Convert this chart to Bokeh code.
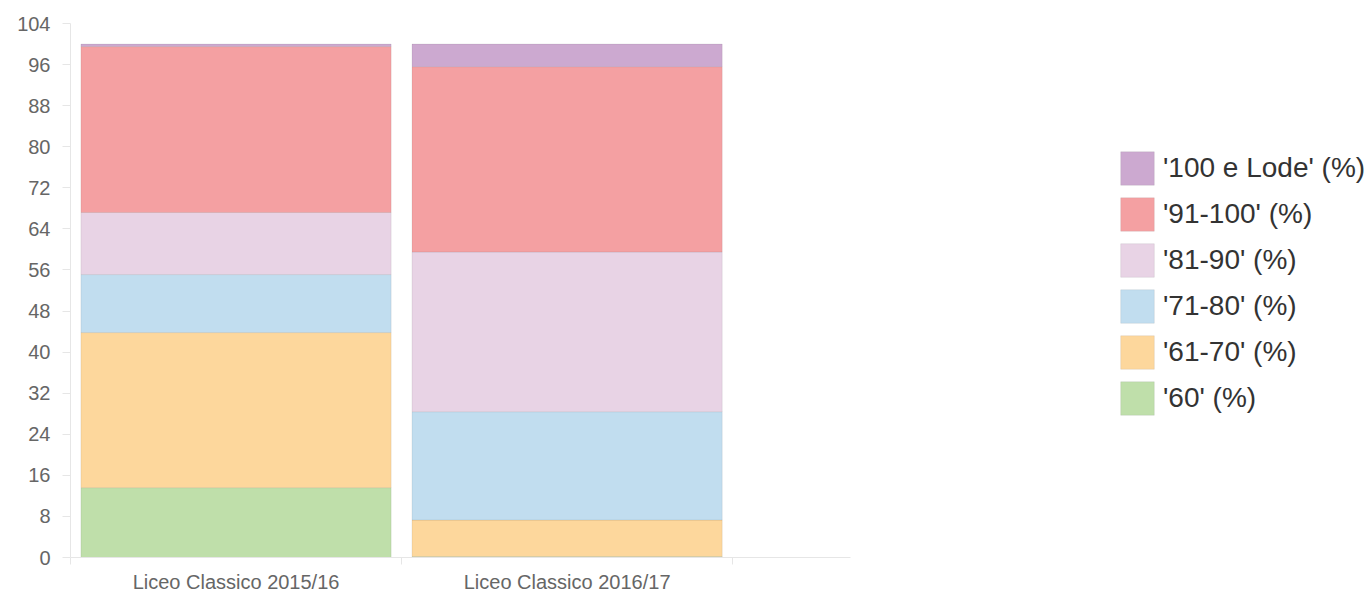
from bokeh.plotting import figure
from bokeh.models import Range1d, FixedTicker, Legend, LegendItem
from bokeh.embed import file_html
from bokeh.resources import INLINE

categories = ["Liceo Classico 2015/16", "Liceo Classico 2016/17"]
series_names = ["'60' (%)", "'61-70' (%)", "'71-80' (%)", "'81-90' (%)", "'91-100' (%)", "'100 e Lode' (%)"]
v60 = [13.6, 0.2]
v61_70 = [30.2, 7.1]
v71_80 = [11.3, 21.1]
v81_90 = [12.1, 31.1]
v91_100 = [32.3, 36.1]
v100_lode = [0.5, 4.4]
colors = ["#bfdfaa", "#fdd79c", "#c1ddef", "#e8d3e5", "#f4a0a2", "#cca9d0"]
y_ticks = [0, 8, 16, 24, 32, 40, 48, 56, 64, 72, 80, 88, 96, 104]

series = [v60, v61_70, v71_80, v81_90, v91_100, v100_lode]
xs = [i + 0.5 for i in range(len(categories))]

p = figure(frame_width=780, frame_height=534, min_border_left=70, min_border_top=23,
           min_border_right=518, min_border_bottom=37,
           x_range=Range1d(0, 2.356), y_range=Range1d(0, 104),
           output_backend="svg", toolbar_location=None)
p.outline_line_color = None
p.xgrid.visible = False
p.ygrid.visible = False

data = {"x": xs}
for name, vals in zip(series_names, series):
    data[name] = vals
renderers = p.vbar_stack(series_names, x="x", width=0.937, source=data,
                         color=colors, line_color="#000000", line_alpha=0.07, line_width=1)

# y axis
ya = p.yaxis[0]
ya.ticker = FixedTicker(ticks=y_ticks)
ya.axis_line_color = "#e6e6e6"
ya.major_tick_line_color = "#e6e6e6"
ya.major_tick_out = 8
ya.major_tick_in = 0
ya.minor_tick_line_color = None
ya.major_label_text_font = "Liberation Sans"
ya.major_label_text_font_size = "20px"
ya.major_label_text_color = "#666666"
ya.major_label_standoff = 12

# x axis
xa = p.xaxis[0]
xa.ticker = FixedTicker(ticks=xs, minor_ticks=[0, 1, 2])
xa.major_label_overrides = {x: c for x, c in zip(xs, categories)}
xa.axis_line_color = "#e6e6e6"
xa.major_tick_line_color = None
xa.major_tick_out = 0
xa.minor_tick_line_color = "#e6e6e6"
xa.minor_tick_out = 7
xa.minor_tick_in = 0
xa.major_label_text_font = "Liberation Sans"
xa.major_label_text_font_size = "20px"
xa.major_label_text_color = "#666666"
xa.major_label_standoff = 6

items = [LegendItem(label=n, renderers=[r]) for n, r in zip(series_names, renderers)][::-1]
legend = Legend(items=items, location=(266, 138), orientation="vertical",
                glyph_width=42, glyph_height=42, label_standoff=5, spacing=4,
                padding=0, margin=0, border_line_color=None, background_fill_alpha=0,
                label_text_font="Liberation Sans", label_text_font_size="28px",
                label_text_color="#333333")
p.add_layout(legend, "right")

open("out.html", "w").write(file_html(p, INLINE))
